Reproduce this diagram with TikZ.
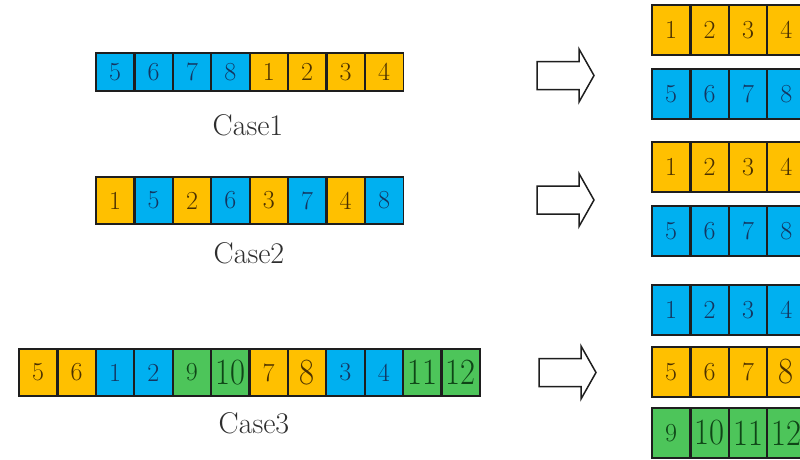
\documentclass[tikz,border=0pt]{standalone}
\usepackage{graphicx}
\definecolor{cellorange}{HTML}{FFC000}
\definecolor{cellblue}{HTML}{00B0F0}
\definecolor{cellgreen}{HTML}{4DC55A}
\definecolor{txtorange}{HTML}{4A3000}
\definecolor{txtblue}{HTML}{143560}
\definecolor{txtgreen}{HTML}{0F4517}
\definecolor{edge}{HTML}{1E1E1E}
\definecolor{labelgray}{HTML}{2E2E2E}
\begin{document}
\begin{tikzpicture}[x=1pt,y=-1pt,
  cellbox/.style={rectangle,inner sep=0pt,
    minimum width=38.4pt,font=\fontsize{26}{26}\selectfont,
    execute at begin node={\def\cellsx{1}}},
  frameline/.style={draw=edge,line width=1.8pt},
  O/.style={fill=cellorange,text=txtorange},
  B/.style={fill=cellblue,text=txtblue},
  G/.style={fill=cellgreen,text=txtgreen},
  bignum/.style={font=\fontsize{37}{37}\selectfont,
    execute at begin node={\def\cellsx{0.88}}},
  OB/.style={O,bignum},
  GB/.style={G,bignum},
  caselabel/.style={font=\fontsize{30}{30}\selectfont,text=labelgray,anchor=base,inner sep=0pt},
  arrowline/.style={draw=edge,line width=1.5pt,fill=white,line join=miter}
]
\clip (0,0) rectangle (800,459);
\fill[white] (0,0) rectangle (800,459);

% hollow block arrow: left end x, middle y
\newcommand\blockarrow[2]{%
  \draw[arrowline] (#1,#2-14) -- ++(42,0) -- ++(0,-12.5) -- (#1+57,#2)
    -- (#1+42,#2+26.5) -- ++(0,-12.5) -- (#1,#2+14) -- cycle;}
% outline every cell of a row after all fills are done
\newcommand\rowframe[2]{%
  \foreach \k in {0,...,#2}
    \draw[frameline] (#1-\k.south west) rectangle (#1-\k.north east);}

% ---- Case 1 ----
\foreach \n/\s [count=\i from 0] in {5/B,6/B,7/B,8/B,1/O,2/O,3/O,4/O}
  \node[cellbox,\s,minimum height=38pt] (a-\i) at ({96+19.2+38.4*\i},72) {\scalebox{\cellsx}[1]{\n}};
\rowframe{a}{7}
\node[caselabel] (lab1) at (248,135) {Case1};

% ---- Case 2 ----
\foreach \n/\s [count=\i from 0] in {1/O,5/B,2/O,6/B,3/O,7/B,4/O,8/B}
  \node[cellbox,\s,minimum height=47pt] (b-\i) at ({96+19.2+38.4*\i},200.5) {\scalebox{\cellsx}[1]{\n}};
\rowframe{b}{7}
\node[caselabel] (lab2) at (249,263) {Case2};

% ---- Case 3 ----
\foreach \n/\s [count=\i from 0] in {5/O,6/O,1/B,2/B,9/G,10/GB,7/O,8/OB,3/B,4/B,11/GB,12/GB}
  \node[cellbox,\s,minimum height=47pt] (c-\i) at ({19+19.2+38.4*\i},372.5) {\scalebox{\cellsx}[1]{\n}};
\rowframe{c}{11}
\node[caselabel] (lab3) at (254,433) {Case3};

% ---- arrows ----
\blockarrow{537}{75.5}
\blockarrow{537}{200}
\blockarrow{539}{372.5}

% ---- split results ----
\foreach \n/\s [count=\i from 0] in {1/O,2/O,3/O,4/O}
  \node[cellbox,\s,minimum height=50pt] (ra-\i) at ({652+19.2+38.4*\i},30) {\scalebox{\cellsx}[1]{\n}};
\rowframe{ra}{3}
\foreach \n/\s [count=\i from 0] in {5/B,6/B,7/B,8/B}
  \node[cellbox,\s,minimum height=50pt] (rb-\i) at ({652+19.2+38.4*\i},94) {\scalebox{\cellsx}[1]{\n}};
\rowframe{rb}{3}
\foreach \n/\s [count=\i from 0] in {1/O,2/O,3/O,4/O}
  \node[cellbox,\s,minimum height=50pt] (rc-\i) at ({652+19.2+38.4*\i},167) {\scalebox{\cellsx}[1]{\n}};
\rowframe{rc}{3}
\foreach \n/\s [count=\i from 0] in {5/B,6/B,7/B,8/B}
  \node[cellbox,\s,minimum height=50pt] (rd-\i) at ({652+19.2+38.4*\i},231) {\scalebox{\cellsx}[1]{\n}};
\rowframe{rd}{3}
\foreach \n/\s [count=\i from 0] in {1/B,2/B,3/B,4/B}
  \node[cellbox,\s,minimum height=50pt] (re-\i) at ({652+19.2+38.4*\i},310) {\scalebox{\cellsx}[1]{\n}};
\rowframe{re}{3}
\foreach \n/\s [count=\i from 0] in {5/O,6/O,7/O,8/OB}
  \node[cellbox,\s,minimum height=50pt] (rf-\i) at ({652+19.2+38.4*\i},372) {\scalebox{\cellsx}[1]{\n}};
\rowframe{rf}{3}
\foreach \n/\s [count=\i from 0] in {9/G,10/GB,11/GB,12/GB}
  \node[cellbox,\s,minimum height=50pt] (rg-\i) at ({652+19.2+38.4*\i},433) {\scalebox{\cellsx}[1]{\n}};
\rowframe{rg}{3}
\end{tikzpicture}
\end{document}
